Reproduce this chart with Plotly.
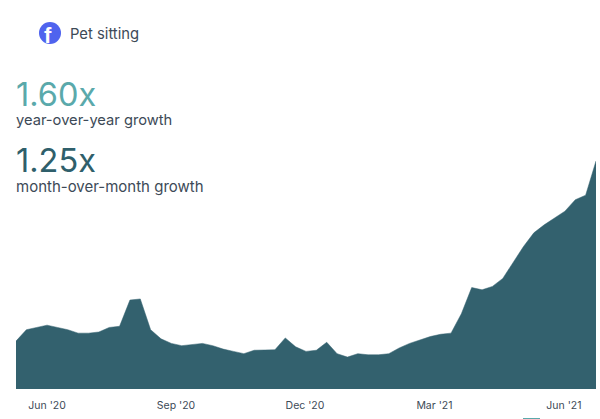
import plotly.graph_objects as go

# chart values, peak = 100
weeks = list(range(57))
pet_sitting = [21, 26, 27, 28, 27, 26, 24.5, 24.5, 25, 27, 27.5, 39, 39.5, 26, 22, 20,
               19, 19.5, 20, 19, 17.5, 16.5, 15.5, 17, 17, 17.2, 22.4, 18.5, 16.5, 17, 20.5,
               15.5, 14, 15.5, 15, 15, 15.5, 18, 20, 21.5, 23, 24, 24.5, 33, 44.5, 43.5, 45,
               48.5, 55.5, 62.5, 68.5, 72, 75, 78, 83, 85, 100]
tick_weeks = [3, 15.45, 27.9, 40.4, 52.9]
tick_labels = ["Jun '20", "Sep '20", "Dec '20", "Mar '21", "Jun '21"]

W, H = 600, 419
L, R, T, B = 16, 4, 161, 30
TEAL = "#33616e"
TEXT = "#3d4a57"
FONT = "Inter"


def px(x):
    return (x - L) / (W - L - R)


def py(y):
    return 1 - (y - T) / (H - T - B)


fig = go.Figure()
fig.add_trace(go.Scatter(x=weeks, y=pet_sitting, mode="lines", fill="tozeroy",
                         fillcolor=TEAL, line=dict(color=TEAL, width=0.5),
                         hoverinfo="skip", showlegend=False))

fig.update_layout(
    width=W, height=H,
    margin=dict(l=L, r=R, t=T, b=B, pad=0),
    paper_bgcolor="white", plot_bgcolor="white",
    font=dict(family=FONT, color=TEXT),
    showlegend=False,
)
fig.update_xaxes(range=[0, 56], tickmode="array", tickvals=tick_weeks, ticktext=tick_labels,
                 showgrid=False, zeroline=False, showline=False, ticks="",
                 ticklabelstandoff=8, tickfont=dict(size=10.5, color=TEXT))
fig.update_yaxes(range=[0, 100], visible=False)


def label(x, y, text, size, color=TEXT, family=FONT):
    fig.add_annotation(xref="paper", yref="paper", x=px(x), y=py(y), text=text, showarrow=False,
                       xanchor="left", yanchor="middle", align="left", borderpad=0, borderwidth=0,
                       font=dict(size=size, color=color, family=family))


def stat(y, value, caption, size, color):
    # big number and caption share one text block so the lines sit tight
    big = f'<span style="font-size:32.5px;fill:{color}">{value}</span>'
    label(16, y, f"{big}<br>{caption}", size)


label(70, 34, "Pet sitting", 14.8)
stat(101.5, "1.60x", "year-over-year growth", 14.7, "#5aa9ab")
stat(168.5, "1.25x", "month-over-month growth", 15, "#2f5f6b")
label(44, 36, "<b>f</b>", 22, color="white", family="Liberation Sans")

# facebook badge and the clipped legend swatch at the bottom edge
fig.add_shape(type="circle", xref="paper", yref="paper", layer="below",
              x0=px(39), x1=px(61), y0=py(44), y1=py(22),
              fillcolor="#4f63ee", line_width=0)
fig.add_shape(type="rect", xref="paper", yref="paper", layer="below",
              x0=px(523), x1=px(540), y0=py(419), y1=py(418),
              fillcolor="#5aa9ab", line_width=0)

fig.write_html("out.html", config=dict(displayModeBar=False),
               post_script="document.body.style.margin = '0';")
